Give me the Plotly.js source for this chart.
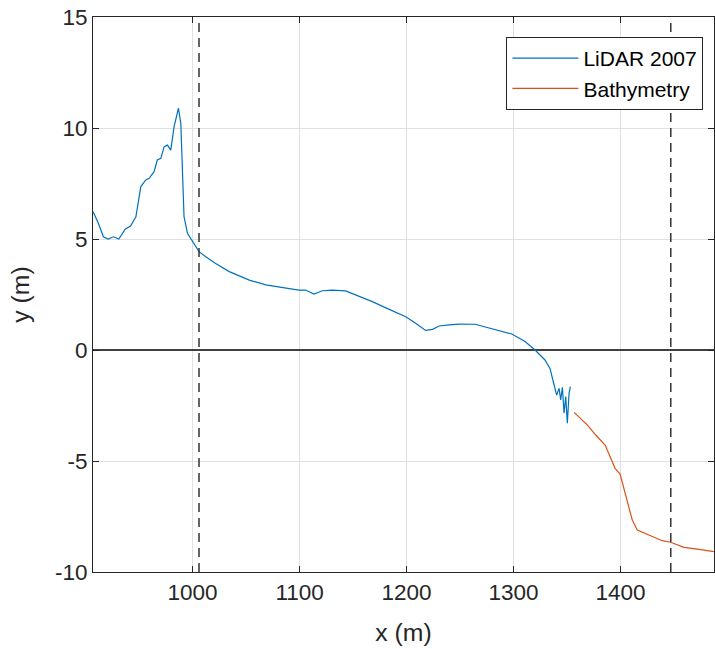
<!DOCTYPE html>
<html>
<head>
<meta charset="utf-8">
<script src="https://cdn.plot.ly/plotly-3.0.1.min.js"></script>
<style>html,body{margin:0;padding:0;background:#fff;}#chart{width:715px;height:649px;}</style>
</head>
<body>
<div id="chart"></div>
<script>
const lidarX = [907, 912, 916.6, 921, 926, 931, 937, 942, 947, 951.6, 956.3, 959.4, 964, 967, 970.3, 973.4, 976.5, 979.6, 982.7, 986.8, 989, 990.5, 992, 995.2, 999.8, 1006, 1012.3, 1018.7, 1021.6, 1034.3, 1053, 1068.5, 1087.2, 1099.3, 1105.6, 1113.5, 1121.2, 1130.5, 1143, 1155.6, 1168, 1183.8, 1192.7, 1199.3, 1208.5, 1217.8, 1224.3, 1230.5, 1239.8, 1249.2, 1264.2, 1282.8, 1298.4, 1310.8, 1320.1, 1329.4, 1334.1, 1337.2, 1340.3, 1342.6, 1344.1, 1345.7, 1347.2, 1348.8, 1350.3, 1351.9, 1353.1];
const lidarY = [6.23, 5.7, 5.1, 5.0, 5.1, 5.0, 5.44, 5.58, 6.0, 7.36, 7.66, 7.73, 8.03, 8.56, 8.63, 9.16, 9.23, 9.0, 10.06, 10.89, 10.2, 7.96, 6.0, 5.26, 4.88, 4.43, 4.2, 3.98, 3.9, 3.53, 3.15, 2.93, 2.78, 2.7, 2.7, 2.52, 2.67, 2.7, 2.66, 2.43, 2.18, 1.83, 1.65, 1.5, 1.2, 0.88, 0.93, 1.08, 1.13, 1.17, 1.16, 0.93, 0.72, 0.38, 0.0, -0.45, -0.83, -1.43, -2.03, -1.73, -2.25, -1.68, -2.85, -2.1, -3.3, -1.95, -1.65];
const bathyX = [1356.6, 1369.1, 1376.9, 1385.6, 1390.9, 1394.9, 1399.6, 1404.9, 1411, 1415.7, 1426.6, 1439, 1446.8, 1459.3, 1473.3, 1487.3];
const bathyY = [-2.81, -3.38, -3.83, -4.28, -4.88, -5.33, -5.59, -6.61, -7.66, -8.11, -8.33, -8.59, -8.66, -8.89, -8.98, -9.08];
const dashedX = [1006, 1447];
const xTicks = [1000, 1100, 1200, 1300, 1400];
const yTicks = [-10, -5, 0, 5, 10, 15];
const yTickText = ['-10', '-5', '0', '5', '10', '15'];

const FONT = 'Liberation Sans, Arial, sans-serif';
const traces = [
  {x: lidarX, y: lidarY, mode: 'lines', name: 'LiDAR 2007', line: {color: '#0072BD', width: 1.2}},
  {x: bathyX, y: bathyY, mode: 'lines', name: 'Bathymetry', line: {color: '#D95319', width: 1.2}}
];
const shapes = dashedX.map(v => ({type: 'line', xref: 'x', yref: 'paper', x0: v, x1: v, y0: 0, y1: 1, line: {color: '#333', width: 1.5, dash: '9px,6px'}}));
const axisCommon = {
  showline: true, linecolor: '#262626', linewidth: 1, mirror: 'ticks',
  ticks: 'inside', ticklen: 6, tickcolor: '#262626',
  showgrid: true, gridcolor: '#e0e0e0', gridwidth: 1,
  tickfont: {family: FONT, size: 22.5, color: '#262626'}
};
const layout = {
  width: 715, height: 649,
  margin: {l: 93, r: 1, t: 17, b: 77},
  paper_bgcolor: '#fff', plot_bgcolor: '#fff',
  font: {family: FONT, color: '#262626'},
  xaxis: Object.assign({}, axisCommon, {
    range: [906.9, 1487.4], tickvals: xTicks, zeroline: false,
    title: {text: 'x (m)', font: {size: 24.75, color: '#262626'}, standoff: 19}
  }),
  yaxis: Object.assign({}, axisCommon, {
    range: [-10, 15], tickvals: yTicks, ticktext: yTickText,
    zeroline: true, zerolinecolor: '#404040', zerolinewidth: 1.5,
    title: {text: 'y (m)', font: {size: 24.75, color: '#262626'}, standoff: 18}
  }),
  shapes: shapes,
  showlegend: true,
  legend: {x: 0.983, y: 0.964, xanchor: 'right', yanchor: 'top', bgcolor: '#fff', bordercolor: '#262626', borderwidth: 1,
    itemwidth: 66, font: {family: FONT, size: 21, color: '#000'}, tracegroupgap: 0}
};
Plotly.newPlot('chart', traces, layout, {displayModeBar: false, staticPlot: true});
</script>
</body>
</html>
